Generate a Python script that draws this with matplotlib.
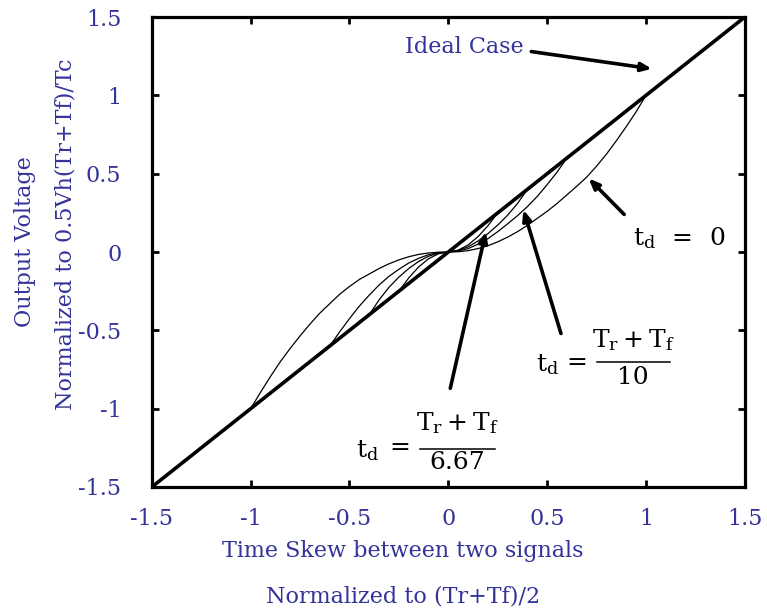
import matplotlib
matplotlib.use("Agg")
import matplotlib.pyplot as plt

# ideal case: output equals skew
x_ideal = [-1.5, 1.5]
y_ideal = [-1.5, 1.5]

# t_d = 0
x_td0 = [-1, -0.95, -0.9, -0.85, -0.8, -0.75, -0.7, -0.65, -0.6, -0.55, -0.5,
         -0.45, -0.4, -0.35, -0.3, -0.25, -0.2, -0.15, -0.1, -0.05, 0,
         0.05, 0.1, 0.15, 0.2, 0.25, 0.3, 0.35, 0.4, 0.45, 0.5,
         0.55, 0.6, 0.65, 0.7, 0.75, 0.8, 0.85, 0.9, 0.95, 1]
y_td0 = [-1, -0.895, -0.795, -0.70, -0.615, -0.535, -0.46, -0.39, -0.33, -0.27, -0.22,
         -0.175, -0.14, -0.105, -0.075, -0.05, -0.03, -0.015, -0.006, -0.001, 0,
         0.002, 0.009, 0.022, 0.04, 0.065, 0.095, 0.13, 0.17, 0.215, 0.26,
         0.31, 0.365, 0.42, 0.478, 0.548, 0.625, 0.71, 0.80, 0.895, 1]

# t_d = (Tr+Tf)/10
x_td10 = [-0.6, -0.55, -0.5, -0.45, -0.4, -0.35, -0.3, -0.25, -0.2, -0.15, -0.1, -0.05, 0,
          0.05, 0.1, 0.15, 0.2, 0.25, 0.3, 0.35, 0.4, 0.45, 0.5, 0.55, 0.6]
y_td10 = [-0.6, -0.51, -0.425, -0.345, -0.275, -0.21, -0.155, -0.11, -0.07, -0.04, -0.017, -0.004, 0,
          0.006, 0.022, 0.05, 0.085, 0.13, 0.18, 0.232, 0.29, 0.355, 0.43, 0.51, 0.6]

# t_d = (Tr+Tf)/6.67
x_td667 = [-0.4, -0.35, -0.3, -0.25, -0.2, -0.15, -0.1, -0.05, 0,
           0.05, 0.1, 0.15, 0.2, 0.25, 0.3, 0.35, 0.4]
y_td667 = [-0.4, -0.305, -0.225, -0.16, -0.105, -0.06, -0.027, -0.007, 0,
           0.009, 0.033, 0.07, 0.117, 0.172, 0.235, 0.31, 0.4]

# one more, closest to the ideal line
x_td4 = [-0.25, -0.2, -0.15, -0.1, -0.05, 0, 0.05, 0.1, 0.15, 0.2, 0.25]
y_td4 = [-0.25, -0.165, -0.095, -0.043, -0.011, 0, 0.012, 0.045, 0.098, 0.167, 0.25]

ticks = [-1.5, -1, -0.5, 0, 0.5, 1, 1.5]
tick_labels = ["-1.5", "-1", "-0.5", "0", "0.5", "1", "1.5"]

blue = "#333399"
plt.rcParams["font.family"] = ["DejaVu Serif"]
plt.rcParams["mathtext.fontset"] = "dejavuserif"

fig = plt.figure(figsize=(7.67, 6.11), dpi=100)
ax = fig.add_axes([0.198, 0.203, 0.773, 0.769])

ax.plot(x_ideal, y_ideal, color="black", lw=2.6)
ax.plot(x_td0, y_td0, color="black", lw=0.9)
ax.plot(x_td10, y_td10, color="black", lw=0.9)
ax.plot(x_td667, y_td667, color="black", lw=0.9)
ax.plot(x_td4, y_td4, color="black", lw=0.9)

ax.set_xlim(-1.5, 1.5)
ax.set_ylim(-1.5, 1.5)
ax.set_xticks(ticks, tick_labels)
ax.set_yticks(ticks, tick_labels)
for s in ax.spines.values():
    s.set_linewidth(2.3)
ax.tick_params(direction="in", length=5, width=2, top=True, right=True,
               labelsize=16, labelcolor=blue)
ax.tick_params(axis="x", pad=15)
ax.tick_params(axis="y", pad=22)

# axis titles
fig.text(0.525, 0.098, "Time Skew between two signals", color=blue, fontsize=16,
         ha="center", va="center")
fig.text(0.525, 0.023, "Normalized to (Tr+Tf)/2", color=blue, fontsize=16,
         ha="center", va="center")
fig.text(0.033, 0.604, "Output Voltage", color=blue, fontsize=16,
         rotation=90, ha="center", va="center")
fig.text(0.086, 0.617, "Normalized to 0.5Vh(Tr+Tf)/Tc", color=blue, fontsize=16,
         rotation=90, ha="center", va="center")

arrow = dict(arrowstyle="-|>,head_length=0.6,head_width=0.25", color="black",
             lw=2.6, shrinkA=0, shrinkB=0)

ax.text(0.08, 1.31, "Ideal Case", color=blue, fontsize=16, ha="center", va="center")
ax.annotate("", xy=(1.03, 1.17), xytext=(0.42, 1.28), arrowprops=arrow)

# t_d = 0
ax.text(1.17, 0.09, r"$\mathrm{t_d\ \,=\ \,0}$", fontsize=18, ha="center", va="center")
ax.annotate("", xy=(0.71, 0.47), xytext=(0.89, 0.24), arrowprops=arrow)

# t_d = (Tr+Tf)/10
ax.text(0.50, -0.72, r"$\mathrm{t_d}$", fontsize=18, ha="center", va="center")
ax.text(0.65, -0.705, "=", fontsize=18, ha="center", va="center")
ax.text(0.935, -0.56, r"$\mathrm{T_r + T_f}$", fontsize=18, ha="center", va="center")
ax.plot([0.75, 1.12], [-0.705, -0.705], color="black", lw=1.1)
ax.text(0.935, -0.80, "10", fontsize=18, ha="center", va="center")
ax.annotate("", xy=(0.38, 0.27), xytext=(0.57, -0.52), arrowprops=arrow)

# t_d = (Tr+Tf)/6.67
ax.text(-0.41, -1.27, r"$\mathrm{t_d}$", fontsize=18, ha="center", va="center")
ax.text(-0.246, -1.25, "=", fontsize=18, ha="center", va="center")
ax.text(0.045, -1.09, r"$\mathrm{T_r + T_f}$", fontsize=18, ha="center", va="center")
ax.plot([-0.144, 0.235], [-1.255, -1.255], color="black", lw=1.1)
ax.text(0.045, -1.345, "6.67", fontsize=18, ha="center", va="center")
ax.annotate("", xy=(0.19, 0.13), xytext=(0.01, -0.87), arrowprops=arrow)

fig.savefig("out.png", dpi=100)
